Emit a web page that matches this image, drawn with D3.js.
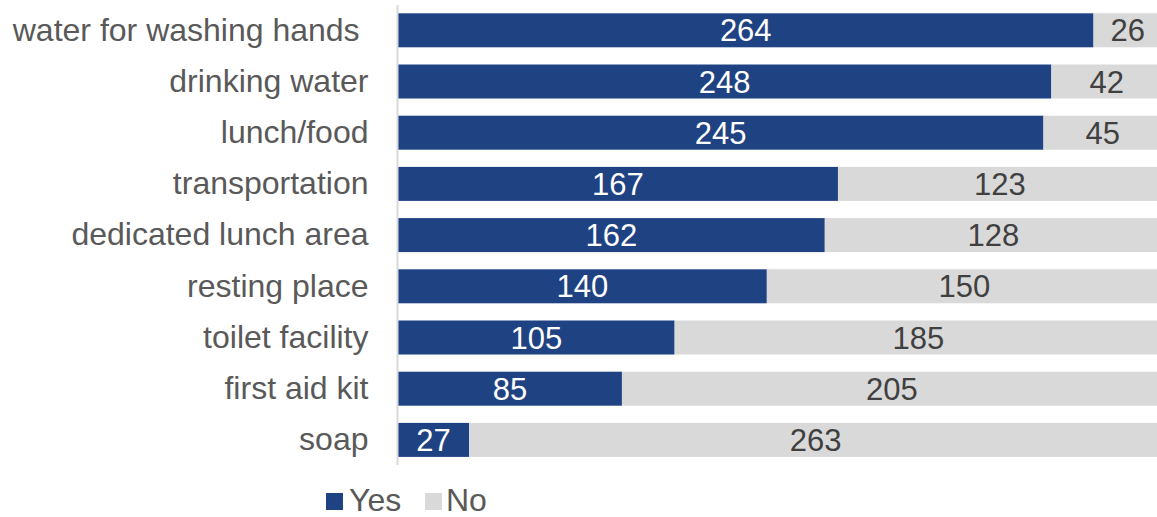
<!DOCTYPE html>
<html>
<head>
<meta charset="utf-8">
<script src="https://cdn.jsdelivr.net/npm/d3@7"></script>
<style>
  html, body { margin: 0; padding: 0; background: #fff; }
  svg { display: block; font-family: "Liberation Sans", Arial, sans-serif; }
</style>
</head>
<body>
<svg id="chart" width="1157" height="517"></svg>
<script>
// Facilities available to workers: count answering Yes / No
const categories = [
  "water for washing hands ",
  "drinking water",
  "lunch/food",
  "transportation",
  "dedicated lunch area",
  "resting place",
  "toilet facility",
  "first aid kit",
  "soap"
];
const yesValues = [264, 248, 245, 167, 162, 140, 105, 85, 27];
const noValues  = [26, 42, 45, 123, 128, 150, 185, 205, 263];
const seriesNames = ["Yes", "No"];
const seriesColors = ["#1f4283", "#d9d9d9"];

const svg = d3.select("#chart");
const total = d3.max(yesValues.map((v, i) => v + noValues[i]));

const x = d3.scaleLinear().domain([0, total]).range([398, 1162]);
const y = d3.scaleBand().domain(categories).range([4.7, 465.5]).paddingInner(0.336).paddingOuter(0.168);

const rows = categories.map((c, i) => ({ cat: c, yes: yesValues[i], no: noValues[i] }));

// Yes segments
svg.append("g").selectAll("rect").data(rows).join("rect")
  .attr("x", x(0))
  .attr("y", d => y(d.cat))
  .attr("width", d => x(d.yes) - x(0))
  .attr("height", y.bandwidth())
  .attr("fill", seriesColors[0]);

// No segments
svg.append("g").selectAll("rect").data(rows).join("rect")
  .attr("x", d => x(d.yes))
  .attr("y", d => y(d.cat))
  .attr("width", d => x(d.yes + d.no) - x(d.yes))
  .attr("height", y.bandwidth())
  .attr("fill", seriesColors[1]);

// Value labels
svg.append("g").selectAll("text").data(rows).join("text")
  .attr("x", d => (x(0) + x(d.yes)) / 2)
  .attr("y", d => y(d.cat) + y.bandwidth() / 2)
  .attr("dy", "0.36em")
  .attr("text-anchor", "middle")
  .attr("font-size", 31)
  .attr("fill", "#ffffff")
  .text(d => d.yes);

svg.append("g").selectAll("text").data(rows).join("text")
  .attr("x", d => (x(d.yes) + x(d.yes + d.no)) / 2)
  .attr("y", d => y(d.cat) + y.bandwidth() / 2)
  .attr("dy", "0.36em")
  .attr("text-anchor", "middle")
  .attr("font-size", 31)
  .attr("fill", "#404040")
  .text(d => d.no);

// Category axis
const yAxis = svg.append("g")
  .attr("transform", `translate(${x(0) - 0.5},0)`)
  .call(d3.axisLeft(y).tickSize(0).tickPadding(29));
yAxis.select(".domain").attr("stroke", "#d9d9d9").attr("stroke-width", 2)
  .attr("d", `M0,5V465`);
yAxis.selectAll("text")
  .attr("font-size", 32)
  .attr("font-family", "'Liberation Sans', Arial, sans-serif")
  .attr("fill", "#595959")
  .style("white-space", "pre");

// Legend
const legend = svg.append("g");
const legendItems = [
  { name: seriesNames[0], color: seriesColors[0], x: 326, tx: 349 },
  { name: seriesNames[1], color: seriesColors[1], x: 425, tx: 446 }
];
legendItems.forEach(it => {
  legend.append("rect").attr("x", it.x).attr("y", 493).attr("width", 17).attr("height", 17).attr("fill", it.color);
  legend.append("text").attr("x", it.tx).attr("y", 511)
    .attr("font-size", 32).attr("fill", "#595959").text(it.name);
});
</script>
</body>
</html>
